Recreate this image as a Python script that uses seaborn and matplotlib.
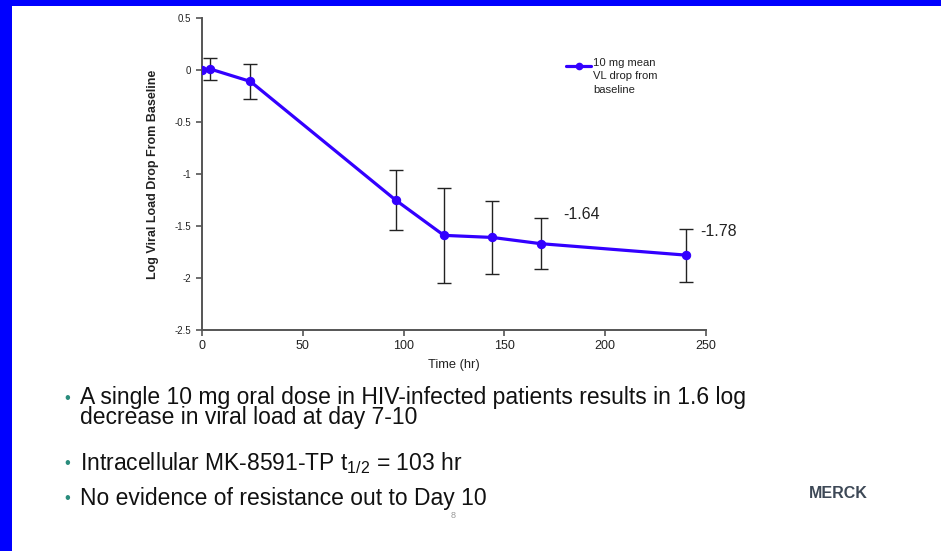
import matplotlib
matplotlib.use("Agg")
import matplotlib.pyplot as plt
import seaborn as sns
import pandas as pd
from matplotlib.patches import Rectangle
from matplotlib.lines import Line2D

# ---- data ----
time_hr = [0, 4, 24, 96, 120, 144, 168, 240]
vl_drop = [0.0, 0.01, -0.11, -1.25, -1.59, -1.61, -1.67, -1.78]
vl_sd = [0.0, 0.105, 0.165, 0.29, 0.455, 0.35, 0.245, 0.255]
series_label = "10 mg mean\nVL drop from\nbaseline"
x_ticks = [0, 50, 100, 150, 200, 250]
y_ticks = [0.5, 0, -0.5, -1, -1.5, -2, -2.5]
y_tick_labels = ["0.5", "0", "-0.5", "-1", "-1.5", "-2", "-2.5"]
annot_values = ["-1.64", "-1.78"]
annot_x = [179, 247]
annot_y = [-1.39, -1.55]
bullet_texts = [
    "A single 10 mg oral dose in HIV-infected patients results in 1.6 log\ndecrease in viral load at day 7-10",
    "Intracellular MK-8591-TP t$_\\mathrm{1/2}$ = 103 hr",
    "No evidence of resistance out to Day 10",
]

df = pd.DataFrame({"time": time_hr, "drop": vl_drop, "sd": vl_sd})

sns.set_theme(style="white")
plt.rcParams["font.family"] = ["Liberation Sans", "DejaVu Sans"]
plt.rcParams["mathtext.fontset"] = "custom"
plt.rcParams["mathtext.rm"] = "Liberation Sans"
plt.rcParams["mathtext.it"] = "Liberation Sans:italic"
plt.rcParams["mathtext.bf"] = "Liberation Sans:bold"

W, H = 941, 551
fig = plt.figure(figsize=(W / 100, H / 100), dpi=100)
fig.patch.set_facecolor("white")

ax = fig.add_axes([202 / W, 1 - 330 / H, 504 / W, 312 / H])
ax.set_facecolor("white")

line_color = "#3300ff"
ax.errorbar(df["time"], df["drop"], yerr=df["sd"], fmt="none", ecolor="#222222",
            elinewidth=1.0, capsize=5, capthick=1.0, zorder=2)
sns.lineplot(data=df, x="time", y="drop", ax=ax, color=line_color, linewidth=2.3,
             marker="o", markersize=6, markeredgecolor=line_color, zorder=3,
             legend=False)

ax.set_xlim(0, 250)
ax.set_ylim(-2.5, 0.5)
ax.set_xticks(x_ticks)
ax.set_xticklabels([str(v) for v in x_ticks])
ax.set_yticks(y_ticks)
ax.set_yticklabels(y_tick_labels)
ax.tick_params(axis="both", which="both", direction="out", length=4, width=1.2,
               color="#555555", labelcolor="#222222", bottom=True, left=True)
ax.tick_params(axis="x", labelsize=9, pad=3)
ax.tick_params(axis="y", labelsize=7, pad=4)
for s in ["top", "right"]:
    ax.spines[s].set_visible(False)
for s in ["left", "bottom"]:
    ax.spines[s].set_color("#555555")
    ax.spines[s].set_linewidth(1.4)

ax.set_xlabel("Time (hr)", fontsize=9.3, color="#222222", labelpad=5)
ax.set_ylabel("Log Viral Load Drop From Baseline", fontsize=9, fontweight="bold",
              color="#222222", labelpad=11)

for txt, xx, yy in zip(annot_values, annot_x, annot_y):
    ax.text(xx, yy, txt, fontsize=11.5, color="#222222", ha="left", va="center")

# legend (handle aligned with first label line, as in the source)
fig.add_artist(Line2D([566 / W, 591 / W], [1 - 66 / H, 1 - 66 / H], transform=fig.transFigure,
                      color=line_color, linewidth=2.3))
fig.add_artist(Line2D([578.5 / W], [1 - 66 / H], transform=fig.transFigure,
                      color=line_color, marker="o", markersize=4.5, linestyle="none"))
fig.text(593 / W, 1 - 58 / H, series_label, fontsize=8.1, color="#222222", ha="left",
         va="top", linespacing=1.42)

# ---- slide text ----
bullet_color = "#2a8c7c"
text_color = "#111111"
fs = 16.5
# baseline of the last line of each bullet, and of its first line (for the dot)
last_baselines = [424, 470, 505]
first_baselines = [405, 470, 505]
for txt, yb, yf in zip(bullet_texts, last_baselines, first_baselines):
    fig.text(80 / W, 1 - yb / H, txt, fontsize=fs, color=text_color, ha="left",
             va="baseline", linespacing=0.84)
    fig.text(67 / W, 1 - (yf - 2) / H, "\u2022", fontsize=12, color=bullet_color,
             ha="center", va="baseline")

fig.text(453 / W, 1 - 515 / H, "8", fontsize=6.5, color="#999999", ha="center", va="center")
fig.text(838 / W, 1 - 493 / H, "MERCK", fontsize=11.5, fontweight="bold", color="#3d4856",
         ha="center", va="center")

# blue frame (top and left bands)
fig.patches.append(Rectangle((0, 1 - 6 / H), 1, 6 / H, transform=fig.transFigure,
                             facecolor="#0000ff", edgecolor="none", zorder=10))
fig.patches.append(Rectangle((0, 0), 12 / W, 1, transform=fig.transFigure,
                             facecolor="#0000ff", edgecolor="none", zorder=10))

fig.savefig("out.png", dpi=100, facecolor="white")
